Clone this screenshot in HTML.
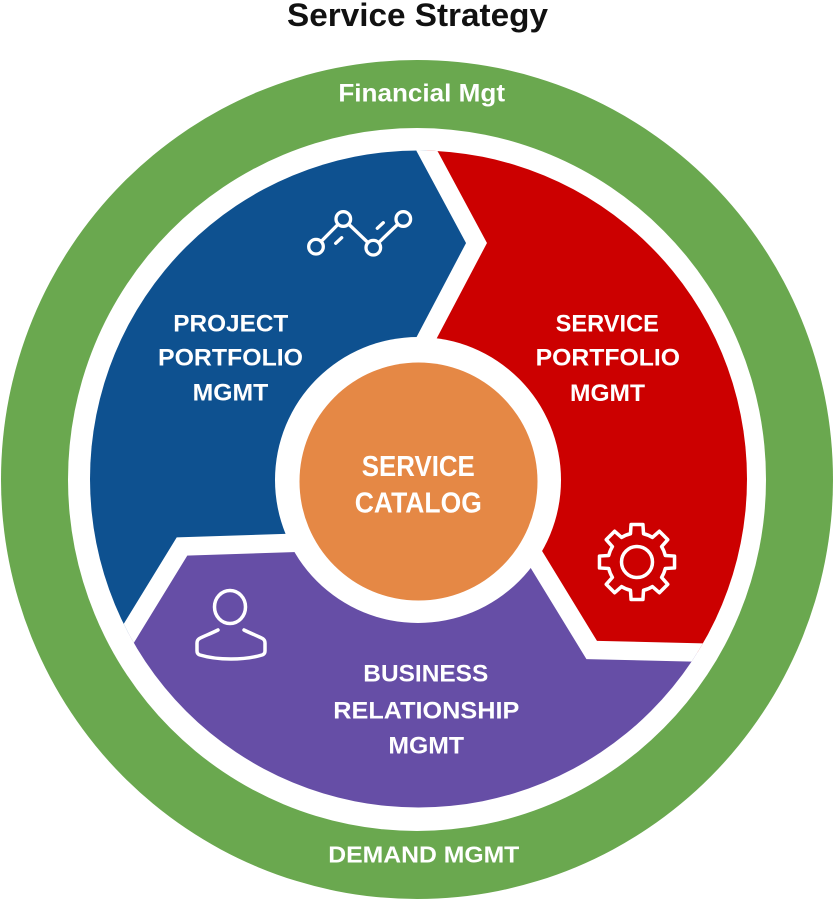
<!DOCTYPE html>
<html>
<head>
<meta charset="utf-8">
<style>
  html, body { margin: 0; padding: 0; background: #fff; }
  body { width: 834px; height: 900px; overflow: hidden; }
  svg { display: block; }
  text { font-family: "Liberation Sans", Arial, sans-serif; font-weight: bold; }
</style>
</head>
<body>
<svg width="834" height="900" viewBox="0 0 834 900" xmlns="http://www.w3.org/2000/svg">
  <rect width="834" height="900" fill="#ffffff"/>

  <!-- Title -->
  <text x="417.5" y="26" font-size="32" fill="#111111" text-anchor="middle" textLength="261" lengthAdjust="spacingAndGlyphs">Service Strategy</text>

  <!-- Green outer ring -->
  <ellipse cx="417" cy="479.5" rx="416" ry="419.5" fill="#6AA84F"/>
  <ellipse cx="417" cy="479.5" rx="349" ry="351.5" fill="#ffffff"/>

  <defs>
    <clipPath id="disk">
      <circle cx="418.5" cy="479" r="328.5"/>
    </clipPath>
  </defs>

  <!-- Colored segments -->
  <g clip-path="url(#disk)">
    <!-- Blue -->
    <polygon fill="#0E5190" points="418,480 427,337 476.5,243 427,151 393,88 0,0 0,746 60,746 129,633 182,546.5 320,542"/>
    <!-- Red -->
    <polygon fill="#CC0000" points="418,480 427,337 476.5,243 427,151 393,88 834,0 834,656 591.7,650 536.7,560 481.7,470"/>
    <!-- Purple -->
    <polygon fill="#664EA6" points="418,480 481.7,470 536.7,560 591.7,650 834,656 834,900 0,900 0,746 60,746 129,633 182,546.5 320,542"/>
    <!-- White gaps -->
    <g fill="none" stroke="#ffffff" stroke-width="18.5" stroke-linejoin="miter" stroke-miterlimit="6">
      <polyline points="393,88 427,151 476.5,243 427,337 409.7,370"/>
      <polyline points="481.7,470 536.7,560 591.7,650 834,655.7"/>
      <polyline points="320,542 182,546.5 129,633 60,746"/>
    </g>
  </g>

  <!-- Center white ring and orange circle -->
  <circle cx="418" cy="480" r="143" fill="#ffffff"/>
  <circle cx="418.5" cy="481.5" r="119" fill="#E58845"/>

  <!-- Ring labels -->
  <text x="421.7" y="101.7" font-size="24.7" fill="#ffffff" text-anchor="middle" textLength="166.7" lengthAdjust="spacingAndGlyphs">Financial Mgt</text>
  <text x="423.8" y="862.5" font-size="23.5" fill="#ffffff" text-anchor="middle" textLength="191" lengthAdjust="spacingAndGlyphs">DEMAND MGMT</text>

  <!-- Project Portfolio -->
  <text x="230.8" y="331.7" font-size="24" fill="#ffffff" text-anchor="middle" textLength="115" lengthAdjust="spacingAndGlyphs">PROJECT</text>
  <text x="230.5" y="365.7" font-size="24" fill="#ffffff" text-anchor="middle" textLength="145" lengthAdjust="spacingAndGlyphs">PORTFOLIO</text>
  <text x="230.5" y="400.7" font-size="24" fill="#ffffff" text-anchor="middle" textLength="75.6" lengthAdjust="spacingAndGlyphs">MGMT</text>

  <!-- Service Portfolio -->
  <text x="607.3" y="331.7" font-size="24" fill="#ffffff" text-anchor="middle" textLength="103.3" lengthAdjust="spacingAndGlyphs">SERVICE</text>
  <text x="607.8" y="365.7" font-size="24" fill="#ffffff" text-anchor="middle" textLength="144.3" lengthAdjust="spacingAndGlyphs">PORTFOLIO</text>
  <text x="607.5" y="401" font-size="24" fill="#ffffff" text-anchor="middle" textLength="75" lengthAdjust="spacingAndGlyphs">MGMT</text>

  <!-- Business Relationship -->
  <text x="425.8" y="681.7" font-size="24" fill="#ffffff" text-anchor="middle" textLength="125" lengthAdjust="spacingAndGlyphs">BUSINESS</text>
  <text x="426.3" y="718.3" font-size="24" fill="#ffffff" text-anchor="middle" textLength="186" lengthAdjust="spacingAndGlyphs">RELATIONSHIP</text>
  <text x="426.2" y="753.3" font-size="24" fill="#ffffff" text-anchor="middle" textLength="75.7" lengthAdjust="spacingAndGlyphs">MGMT</text>

  <!-- Service Catalog -->
  <text x="418.3" y="476" font-size="29" fill="#ffffff" text-anchor="middle" textLength="113" lengthAdjust="spacingAndGlyphs">SERVICE</text>
  <text x="418.3" y="512.7" font-size="29" fill="#ffffff" text-anchor="middle" textLength="127" lengthAdjust="spacingAndGlyphs">CATALOG</text>

  <!-- Route icon (blue) -->
  <g stroke="#ffffff" stroke-width="3.3" stroke-linecap="round" fill="none">
    <line x1="316" y1="246.7" x2="343.3" y2="219"/>
    <line x1="343.3" y1="219" x2="373.3" y2="247.7"/>
    <line x1="373.3" y1="247.7" x2="403.3" y2="219"/>
    <line x1="335.7" y1="243.3" x2="341.7" y2="237.7"/>
    <line x1="377.3" y1="228.3" x2="383.3" y2="222.7"/>
  </g>
  <g stroke="#ffffff" stroke-width="3.3" fill="#0E5190">
    <circle cx="316" cy="246.7" r="7.3"/>
    <circle cx="343.3" cy="219" r="7.3"/>
    <circle cx="373.3" cy="247.7" r="7.3"/>
    <circle cx="403.3" cy="219" r="7.3"/>
  </g>

  <!-- Gear icon (red) -->
  <g transform="translate(637,562)" fill="none" stroke="#ffffff" stroke-width="3.5" stroke-linejoin="round">
    <path d="M28.26,-6.53 L37.53,-5.94 L37.53,5.94 L28.26,6.53 A29,29 0 0 1 24.59,15.37 L30.74,22.34 L22.34,30.74 L15.37,24.59 A29,29 0 0 1 6.53,28.26 L5.94,37.53 L-5.94,37.53 L-6.53,28.26 A29,29 0 0 1 -15.37,24.59 L-22.34,30.74 L-30.74,22.34 L-24.59,15.37 A29,29 0 0 1 -28.26,6.53 L-37.53,5.94 L-37.53,-5.94 L-28.26,-6.53 A29,29 0 0 1 -24.59,-15.37 L-30.74,-22.34 L-22.34,-30.74 L-15.37,-24.59 A29,29 0 0 1 -6.53,-28.26 L-5.94,-37.53 L5.94,-37.53 L6.53,-28.26 A29,29 0 0 1 15.37,-24.59 L22.34,-30.74 L30.74,-22.34 L24.59,-15.37 A29,29 0 0 1 28.26,-6.53 Z"/>
    <circle cx="0" cy="0" r="15.5"/>
  </g>

  <!-- Person icon (purple) -->
  <g fill="none" stroke="#ffffff" stroke-width="3.5" stroke-linecap="round" stroke-linejoin="round">
    <ellipse cx="230" cy="607" rx="15.5" ry="16.5"/>
    <path d="M218,630 C210,634 204,636 199.5,638.5 Q197,640 197,643 L197,651 Q197,654 200,655 C210,658 220,659 231,659 C242,659 252,658 262,655 Q265,654 265,651 L265,643 Q265,640 262.5,638.5 C258,636 252,634 244,630"/>
  </g>
</svg>
</body>
</html>
